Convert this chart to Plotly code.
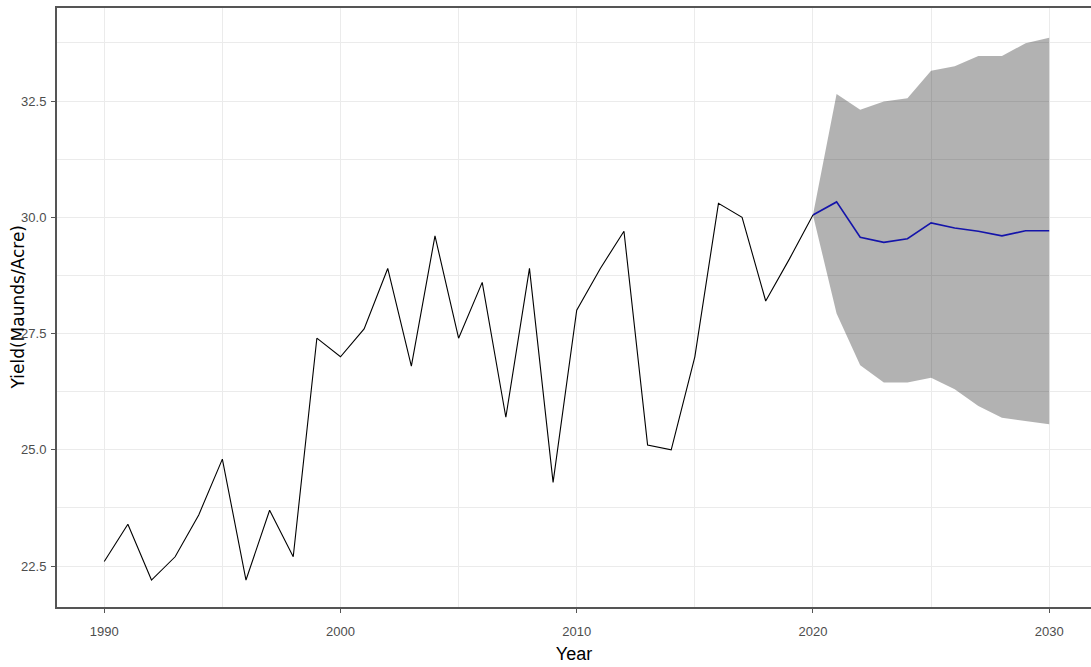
import plotly.graph_objects as go

# Observed yield, 1990-2020
years_hist = list(range(1990, 2021))
yield_hist = [22.6, 23.4, 22.2, 22.7, 23.6, 24.8, 22.2, 23.7, 22.7, 27.4,
              27.0, 27.6, 28.9, 26.8, 29.6, 27.4, 28.6, 25.7, 28.9, 24.3,
              28.0, 28.9, 29.7, 25.1, 25.0, 27.0, 30.3, 30.0, 28.2, 29.1,
              30.05]

# Forecast with prediction interval, 2020-2030
years_fc = list(range(2020, 2031))
fc_mean = [30.05, 30.33, 29.57, 29.46, 29.54, 29.88, 29.77, 29.70, 29.60, 29.71, 29.71]
fc_upper = [30.05, 32.65, 32.31, 32.49, 32.56, 33.15, 33.25, 33.47, 33.47, 33.74, 33.86]
fc_lower = [30.05, 27.93, 26.82, 26.45, 26.45, 26.55, 26.30, 25.94, 25.69, 25.62, 25.55]

x_ticks = [1990, 2000, 2010, 2020, 2030]
y_ticks = [22.5, 25.0, 27.5, 30.0, 32.5]
y_tick_text = ["22.5", "25.0", "27.5", "30.0", "32.5"]

GRID = "#EBEBEB"
BORDER = "#555555"
TICKFONT = dict(family="Liberation Sans Narrow, Arial Narrow, Liberation Sans, sans-serif",
                size=13, color="#4D4D4D")

fig = go.Figure()

# prediction band
fig.add_trace(go.Scatter(x=years_fc, y=fc_upper, mode="lines",
                         line=dict(width=0), hoverinfo="skip", showlegend=False))
fig.add_trace(go.Scatter(x=years_fc, y=fc_lower, mode="lines",
                         line=dict(width=0), fill="tonexty",
                         fillcolor="rgba(0,0,0,0.3)", hoverinfo="skip",
                         showlegend=False))

# observed series
fig.add_trace(go.Scatter(x=years_hist, y=yield_hist, mode="lines",
                         line=dict(color="black", width=1.1), showlegend=False))

# point forecast
fig.add_trace(go.Scatter(x=years_fc, y=fc_mean, mode="lines",
                         line=dict(color="#1414AA", width=1.6), showlegend=False))

fig.update_layout(
    width=1091, height=667,
    margin=dict(l=57, r=0, t=8, b=60, autoexpand=False),
    paper_bgcolor="white", plot_bgcolor="white",
    showlegend=False,
)

# y-axis title, placed as a rotated label left of the tick labels
fig.add_annotation(
    text="Yield(Maunds/Acre)", textangle=-90,
    xref="paper", yref="paper", x=-40 / 1034, y=0.5,
    xanchor="center", yanchor="middle", showarrow=False,
    font=dict(family="DejaVu Sans, Liberation Sans, sans-serif", size=17, color="black"),
)

fig.update_xaxes(
    range=[1988, 2031.77],
    tickmode="array", tickvals=x_ticks, ticktext=[str(v) for v in x_ticks],
    tickfont=TICKFONT, ticklabelstandoff=7,
    ticks="outside", ticklen=4, tickwidth=1, tickcolor=BORDER,
    showgrid=True, gridcolor=GRID, gridwidth=1,
    minor=dict(tickmode="array", tickvals=[1995, 2005, 2015, 2025],
               showgrid=True, gridcolor=GRID, gridwidth=1, ticks=""),
    showline=True, linecolor=BORDER, linewidth=2, mirror=True,
    zeroline=False,
    title=dict(text="Year", standoff=10,
               font=dict(family="Liberation Sans Narrow, Arial Narrow, Liberation Sans, sans-serif",
                         size=18, color="black")),
)

fig.update_yaxes(
    range=[21.62, 34.5],
    tickmode="array", tickvals=y_ticks, ticktext=y_tick_text,
    tickfont=TICKFONT, ticklabelstandoff=2,
    ticks="outside", ticklen=4, tickwidth=1, tickcolor=BORDER,
    showgrid=True, gridcolor=GRID, gridwidth=1,
    minor=dict(tickmode="array", tickvals=[23.75, 26.25, 28.75, 31.25, 33.75],
               showgrid=True, gridcolor=GRID, gridwidth=1, ticks=""),
    showline=True, linecolor=BORDER, linewidth=2, mirror=False,
    zeroline=False,
)

fig.write_html("out.html")
